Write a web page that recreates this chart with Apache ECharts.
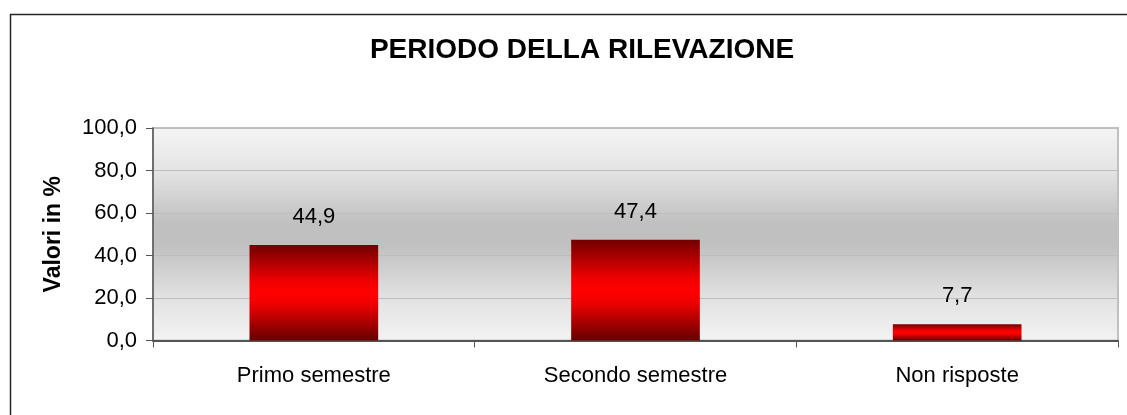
<!DOCTYPE html>
<html>
<head>
<meta charset="utf-8">
<script src="https://cdn.jsdelivr.net/npm/echarts@6/dist/echarts.min.js"></script>
<style>
html,body{margin:0;padding:0;background:#fff;}
#c{width:1127px;height:415px;}
</style>
</head>
<body>
<div id="c"></div>
<script>
const titleText = 'PERIODO DELLA RILEVAZIONE';
const yAxisName = 'Valori in %';
const categories = ['Primo semestre', 'Secondo semestre', 'Non risposte'];
const values = [44.9, 47.4, 7.7];
const yMin = 0, yMax = 100, yStep = 20;

const fmt = v => Number(v).toFixed(1).replace('.', ',');
const FONT = '"Liberation Sans", Arial, sans-serif';

const chart = echarts.init(document.getElementById('c'), null, {renderer: 'canvas'});
chart.setOption({
  animation: false,
  backgroundColor: '#ffffff',
  title: {
    text: titleText,
    left: 577,
    textAlign: 'center',
    top: 31,
    textStyle: {fontFamily: FONT, fontWeight: 'bold', fontSize: 28, color: '#000'}
  },
  graphic: [{
    type: 'rect',
    shape: {x: 10.5, y: 14.5, width: 1200, height: 500},
    style: {fill: 'none', stroke: '#262626', lineWidth: 1.5},
    silent: true, z: 100
  }],
  grid: {
    left: 153, right: 9, top: 128, bottom: 74.5,
    show: true,
    borderColor: '#c0c0c0',
    borderWidth: 2,
    backgroundColor: {
      type: 'linear', x: 0, y: 0, x2: 0, y2: 1,
      colorStops: [
        {offset: 0, color: '#f5f5f5'},
        {offset: 0.2, color: '#e4e4e4'},
        {offset: 0.45, color: '#c0c0c0'},
        {offset: 0.55, color: '#c0c0c0'},
        {offset: 0.8, color: '#e2e2e2'},
        {offset: 1, color: '#f3f3f3'}
      ]
    }
  },
  xAxis: {
    type: 'category',
    data: categories,
    axisLine: {lineStyle: {color: '#555', width: 2}},
    axisTick: {show: true, length: 7, lineStyle: {color: '#555', width: 1}},
    axisLabel: {margin: 24, fontFamily: FONT, fontSize: 22, color: '#000'}
  },
  yAxis: {
    type: 'value',
    min: yMin, max: yMax, interval: yStep,
    name: yAxisName,
    nameLocation: 'middle',
    nameGap: 88,
    nameRotate: 90,
    nameTextStyle: {fontFamily: FONT, fontWeight: 'bold', fontSize: 23, color: '#000'},
    axisLine: {show: true, lineStyle: {color: '#555', width: 1.5}},
    axisTick: {show: true, length: 7, lineStyle: {color: '#555'}},
    axisLabel: {margin: 16, fontFamily: FONT, fontSize: 22, color: '#000', formatter: fmt},
    splitLine: {show: true, lineStyle: {color: '#bdbdbd', width: 1}}
  },
  series: [{
    type: 'bar',
    data: values,
    barWidth: '40%',
    itemStyle: {
      color: {
        type: 'linear', x: 0, y: 0, x2: 0, y2: 1,
        colorStops: [
          {offset: 0, color: '#720000'},
          {offset: 0.38, color: '#f00000'},
          {offset: 0.5, color: '#ff0000'},
          {offset: 0.62, color: '#f00000'},
          {offset: 1, color: '#660000'}
        ]
      }
    },
    label: {
      show: true, position: 'top', distance: 17,
      fontFamily: FONT, fontSize: 22, color: '#000',
      formatter: p => fmt(p.value)
    }
  }]
});
</script>
</body>
</html>
